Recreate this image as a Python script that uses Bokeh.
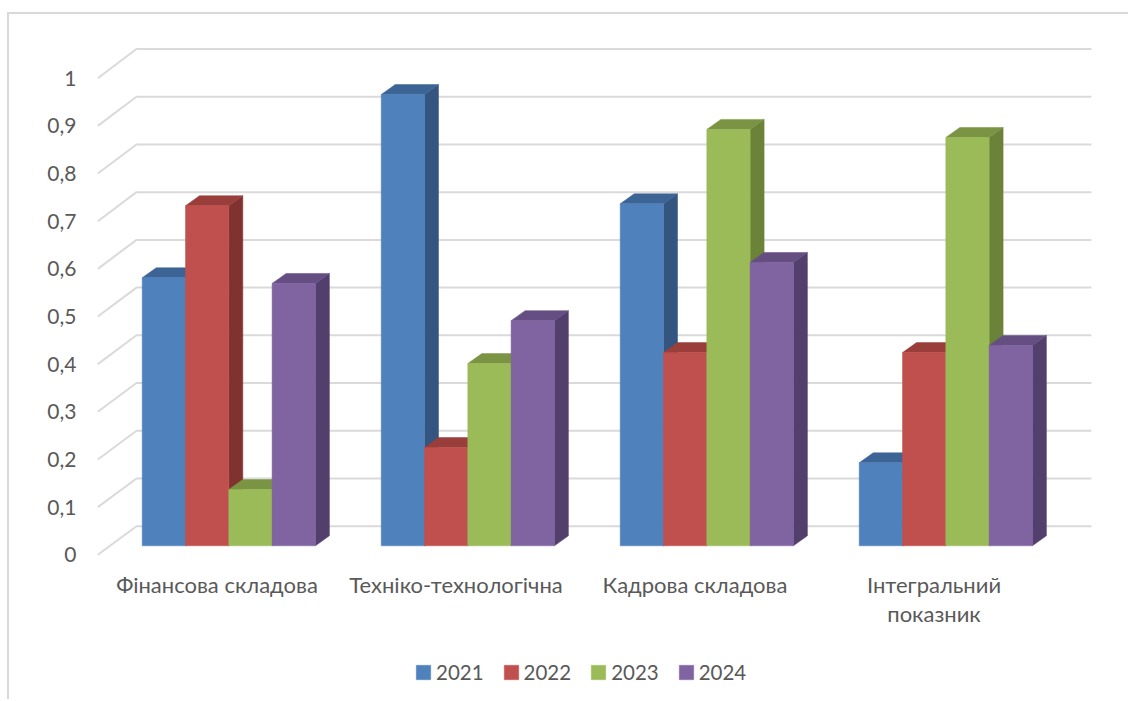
from bokeh.plotting import figure
from bokeh.models import (Range1d, LinearAxis, FixedTicker, Legend, LegendItem)
from bokeh.embed import file_html
from bokeh.resources import INLINE

categories = ["Фінансова складова", "Техніко-технологічна", "Кадрова складова", "Інтегральний"]
second_line = {3: "показник"}
years = ["2021", "2022", "2023", "2024"]
v2021 = [0.562, 0.946, 0.717, 0.174]
v2022 = [0.713, 0.206, 0.405, 0.405]
v2023 = [0.118, 0.382, 0.873, 0.856]
v2024 = [0.550, 0.472, 0.594, 0.420]
series = [v2021, v2022, v2023, v2024]
ticks = [0, 0.1, 0.2, 0.3, 0.4, 0.5, 0.6, 0.7, 0.8, 0.9, 1]
tick_labels = ["0", "0,1", "0,2", "0,3", "0,4", "0,5", "0,6", "0,7", "0,8", "0,9", "1"]

front = ["#4F81BD", "#C0504D", "#9BBB59", "#8064A2"]
top_c = ["#3C6494", "#9A3E3C", "#7A9444", "#654F82"]
side_c = ["#34557F", "#7F3230", "#6B8239", "#523F6C"]

FONT = "Lato"
TXT = "#595959"
FS_LEGEND = "20.5px"
FS_Y = "21px"
FS_X = "22px"

OX, OY = 7, 12          # figure margin in the window
BORDER = 2              # css border on the figure
CX, CY = OX + BORDER, OY + BORDER   # canvas origin in the window
W, H = 1130 - CX, 701 - CY
FL, FR, FT, FB = 88, 1100, 30, 695   # frame edges in window pixels


def X(px):
    return (px - 216.5) / 239.0


def Y(px):
    return (545.3 - px) / 477.0


p = figure(width=W, height=H, output_backend="svg", toolbar_location=None,
           x_range=Range1d(X(FL), X(FR)), y_range=Range1d(Y(FB), Y(FT)),
           min_border_left=FL - CX, min_border_right=CX + W - FR,
           min_border_top=FT - CY, min_border_bottom=CY + H - FB,
           background_fill_color="white", border_fill_color="white",
           margin=(OY, 0, 0, OX),
           styles={"border-top": "2px solid #D9D9D9", "border-left": "2px solid #D9D9D9"})
p.outline_line_color = None
p.grid.visible = False
p.xaxis.visible = False
p.yaxis.visible = False

p.extra_y_ranges = {"front": Range1d((554.3 - FB) / 476.6, (554.3 - FT) / 476.6)}
ax_y = LinearAxis(y_range_name="front", ticker=FixedTicker(ticks=ticks),
                  major_label_overrides=dict(zip(ticks, tick_labels)))
ax_y.axis_line_color = None
ax_y.major_tick_line_color = None
ax_y.minor_tick_line_color = None
ax_y.major_tick_in = ax_y.major_tick_out = 0
ax_y.major_label_standoff = 12
ax_y.major_label_text_font = FONT
ax_y.major_label_text_font_size = FS_Y
ax_y.major_label_text_color = TXT
p.add_layout(ax_y, "left")

wall_xs, wall_ys = [], []
for v in ticks:
    yb = 525.7 - 477.2 * v
    yf = 554.3 - 476.6 * v
    wall_xs.append([X(97.3), X(136), X(1091)])
    wall_ys.append([Y(yf), Y(yb), Y(yb)])
p.multi_line(wall_xs, wall_ys, line_color="#DADADA", line_width=2)

bw = 43.3 / 239.0
dx = 14.0 / 239.0
dy = 10.0 / 477.0
origin = X(141.7)
items = []
for j, vals in enumerate(series):
    sx, sy, tx, ty, cx = [], [], [], [], []
    for i, v in enumerate(vals):
        x0 = i + origin + j * bw
        x1 = x0 + bw
        sx.append([x1, x1 + dx, x1 + dx, x1])
        sy.append([0, dy, v + dy, v])
        tx.append([x0, x1, x1 + dx, x0 + dx])
        ty.append([v, v, v + dy, v + dy])
        cx.append(x0 + bw / 2)
    p.patches(sx, sy, fill_color=side_c[j], line_color=side_c[j], line_width=0.5)
    p.patches(tx, ty, fill_color=top_c[j], line_color=top_c[j], line_width=0.5)
    r = p.vbar(x=cx, top=vals, bottom=0, width=bw, fill_color=front[j], line_color=front[j], line_width=0.5)
    items.append(LegendItem(label=years[j], renderers=[r]))

positions = list(range(len(categories)))
ax_x = LinearAxis(ticker=FixedTicker(ticks=positions),
                  major_label_overrides=dict(zip(positions, categories)))
ax_x2 = LinearAxis(ticker=FixedTicker(ticks=list(second_line)),
                   major_label_overrides=second_line)
for a, st in ((ax_x, -125), (ax_x2, -96)):
    a.axis_line_color = None
    a.major_tick_line_color = None
    a.minor_tick_line_color = None
    a.major_tick_in = a.major_tick_out = 0
    a.major_label_standoff = st
    a.major_label_text_font = FONT
    a.major_label_text_font_size = FS_X
    a.major_label_text_color = TXT
    a.major_label_orientation = "horizontal"
    p.add_layout(a, "below")

legend = Legend(items=items, orientation="horizontal", location=(326, 11),
                glyph_width=18, glyph_height=18, label_standoff=4, spacing=18, padding=0, margin=0,
                border_line_color=None, background_fill_color=None,
                label_text_font=FONT, label_text_font_size=FS_LEGEND, label_text_color=TXT)
p.add_layout(legend, "center")

open("out.html", "w").write(file_html(p, INLINE))
